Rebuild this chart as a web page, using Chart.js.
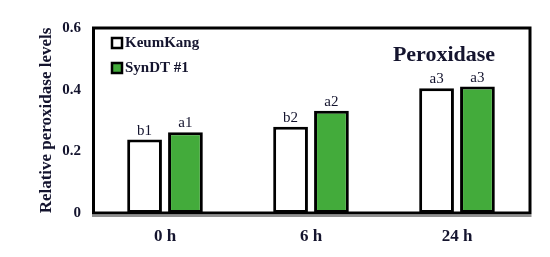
<!DOCTYPE html>
<html><head><meta charset="utf-8">
<script src="https://cdn.jsdelivr.net/npm/chart.js@4"></script>
<style>html,body{margin:0;padding:0;background:#fff}#wrap{width:550px;height:257px}</style>
</head><body><div id="wrap"><canvas id="c" width="550" height="257"></canvas></div>
<script>
const categories = ['0 h', '6 h', '24 h'];
const seriesNames = ['KeumKang', 'SynDT #1'];
const keumKang = [0.238, 0.280, 0.405];
const synDT = [0.262, 0.332, 0.410];
const keumKangLetters = ['b1', 'b2', 'a3'];
const synDTLetters = ['a1', 'a2', 'a3'];
const yTicks = [0, 0.2, 0.4, 0.6];
const chartTitle = 'Peroxidase';
const yTitle = 'Relative peroxidase levels';

const FONT = "'Liberation Serif', 'Times New Roman', serif";
const TXT = '#14142e';
const GREEN = '#43ab3b';
const letters = [keumKangLetters, synDTLetters];

const framePlugin = {
  id: 'frame',
  afterDatasetsDraw(chart) {
    const {ctx, chartArea: a} = chart;
    ctx.save();
    ctx.strokeStyle = '#000';
    ctx.lineWidth = 3;
    ctx.strokeRect(a.left + 1.5, a.top, a.right - a.left - 1.5, a.bottom - a.top);
    ctx.lineWidth = 1.2;
    ctx.strokeStyle = '#222';
    ctx.beginPath();
    ctx.moveTo(a.left, a.bottom + 3);
    ctx.lineTo(a.right + 1.5, a.bottom + 3);
    ctx.stroke();
    ctx.restore();
  },
  afterDraw(chart) {
    const {ctx, chartArea: a} = chart;
    ctx.save();
    // letters above bars
    ctx.font = '15px ' + FONT;
    ctx.fillStyle = TXT;
    ctx.textAlign = 'center';
    ctx.textBaseline = 'alphabetic';
    chart.data.datasets.forEach((ds, di) => {
      chart.getDatasetMeta(di).data.forEach((el, i) => {
        ctx.fillText(letters[di][i], el.x, el.y - 5);
      });
    });
    // legend
    chart.data.datasets.forEach((ds, di) => {
      const y = a.top + 10 + di * 25;
      ctx.fillStyle = ds.backgroundColor;
      ctx.fillRect(a.left + 20, y, 10, 10);
      ctx.strokeStyle = '#000';
      ctx.lineWidth = 2.5;
      ctx.strokeRect(a.left + 20, y, 10, 10);
      ctx.fillStyle = TXT;
      ctx.font = 'bold 15px ' + FONT;
      ctx.textAlign = 'left';
      ctx.textBaseline = 'middle';
      ctx.fillText(ds.label, a.left + 33, y + 5.5);
    });
    // title
    ctx.font = 'bold 22px ' + FONT;
    ctx.textAlign = 'center';
    ctx.textBaseline = 'alphabetic';
    ctx.fillStyle = TXT;
    ctx.fillText(chartTitle, a.left + 352, a.top + 33);
    ctx.restore();
  }
};

new Chart(document.getElementById('c'), {
  type: 'bar',
  data: {
    labels: categories,
    datasets: [
      {label: seriesNames[0], data: keumKang, backgroundColor: '#ffffff', borderColor: '#000', borderWidth: 3, borderSkipped: false},
      {label: seriesNames[1], data: synDT, backgroundColor: GREEN, borderColor: '#000', borderWidth: 3, borderSkipped: false}
    ]
  },
  options: {
    responsive: false,
    animation: false,
    devicePixelRatio: 1,
    layout: {padding: {left: 0, right: 20, top: 28, bottom: 0}},
    datasets: {bar: {categoryPercentage: 0.56, barPercentage: 0.85}},
    plugins: {legend: {display: false}, tooltip: {enabled: false}},
    scales: {
      x: {
        grid: {display: false, drawTicks: false},
        border: {display: false},
        ticks: {padding: 13, color: TXT, font: {family: FONT, size: 17, weight: 'bold'}},
        afterFit(s) { s.height = 44; }
      },
      y: {
        min: 0, max: 0.6,
        afterBuildTicks(s) { s.ticks = yTicks.map(v => ({value: v})); },
        grid: {display: false, drawTicks: false},
        border: {display: false},
        ticks: {padding: 11, color: TXT, font: {family: FONT, size: 15, weight: 'bold'},
          callback: v => v === 0 ? '0' : v.toFixed(1)},
        title: {display: true, text: yTitle, color: TXT, padding: {top: 36, bottom: 0},
          font: {family: FONT, size: 17, weight: 'bold'}},
        afterFit(s) { s.width = 92; }
      }
    }
  },
  plugins: [framePlugin]
});
</script></body></html>
